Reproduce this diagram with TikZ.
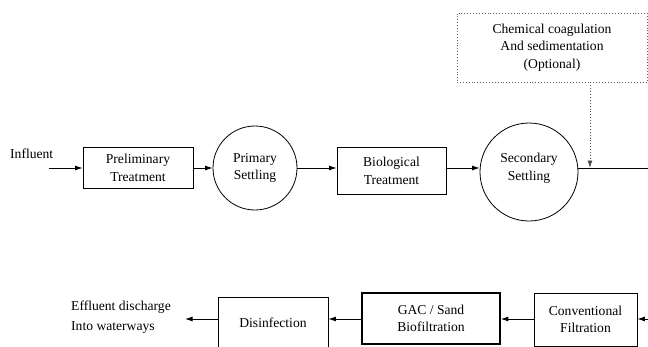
\documentclass[tikz,border=0pt]{standalone}
\usepackage{fontspec}
\setmainfont{Liberation Serif}
\usetikzlibrary{arrows.meta}
\begin{document}
\begin{tikzpicture}[x=1pt,y=-1pt,
  every node/.style={font=\fontsize{13.6}{17.5}\selectfont, align=center, inner sep=0pt, text=black},
  flow/.style={line width=0.9pt, -{Latex[length=7.5pt,width=5pt]}},
  dotbox/.style={draw=gray!75!black, dotted, line width=0.9pt},
  dotflow/.style={draw=gray!60!black, dotted, line width=0.9pt, -{Latex[length=7.5pt,width=5pt]}}
]
\useasboundingbox (0,0) rectangle (648,346);
% top row
\node[anchor=west] (infl) at (10,154) {Influent};
\coordinate (inS) at (49,168);
\node[draw, line width=0.8pt, minimum width=110pt, minimum height=41pt] (prel) at (138,168) {Preliminary\\Treatment};
\node[draw, circle, line width=0.8pt, minimum size=84pt] (prim) at (255,168) {Primary\\Settling};
\node[draw, line width=0.8pt, minimum width=109pt, minimum height=47pt] (bio) at (391.5,171) {Biological\\Treatment};
\node[draw, circle, line width=0.8pt, minimum size=98pt] (sec) at (529,172) {};
\node (sectext) at (529,168) {Secondary\\Settling};
\node[dotbox, minimum width=190pt, minimum height=69pt] (chem) at (552,47.5) {Chemical coagulation\\And sedimentation\\(Optional)};
\coordinate (rightend) at (648,168);
\coordinate (secR) at (578,168);
\coordinate (join) at (590,168);
\draw[flow] (inS) -- (prel.west |- inS);
\draw[flow] (prel.east |- inS) -- (prim.west);
\draw[flow] (prim.east) -- (bio.west |- prim.east);
\draw[flow] (bio.east |- prim.east) -- (secR -| sec.west);
\draw[line width=0.9pt] (secR) -- (rightend);
\draw[dotflow] (chem.south -| join) -- (join);
% bottom row
\node[anchor=west, align=left, font=\fontsize{13.6}{20}\selectfont] (effl) at (71,317) {Effluent discharge\\Into waterways};
\node[draw, line width=0.8pt, minimum width=110pt, minimum height=52pt] (dis) at (273,323) {Disinfection};
\node[draw, line width=1.6pt, minimum width=138pt, minimum height=51pt] (gac) at (431,318.5) {GAC / Sand\\Biofiltration};
\node[draw, line width=0.8pt, minimum width=103pt, minimum height=53pt] (conv) at (585.5,319.5) {Conventional\\Filtration};
\coordinate (effEnd) at (185,319);
\coordinate (rin) at (648,319);
\draw[flow] (rin) -- (conv.east |- rin);
\draw[flow] (conv.west |- rin) -- (gac.east |- rin);
\draw[flow] (gac.west |- rin) -- (dis.east |- rin);
\draw[flow] (dis.west |- rin) -- (effEnd);
\end{tikzpicture}
\end{document}
